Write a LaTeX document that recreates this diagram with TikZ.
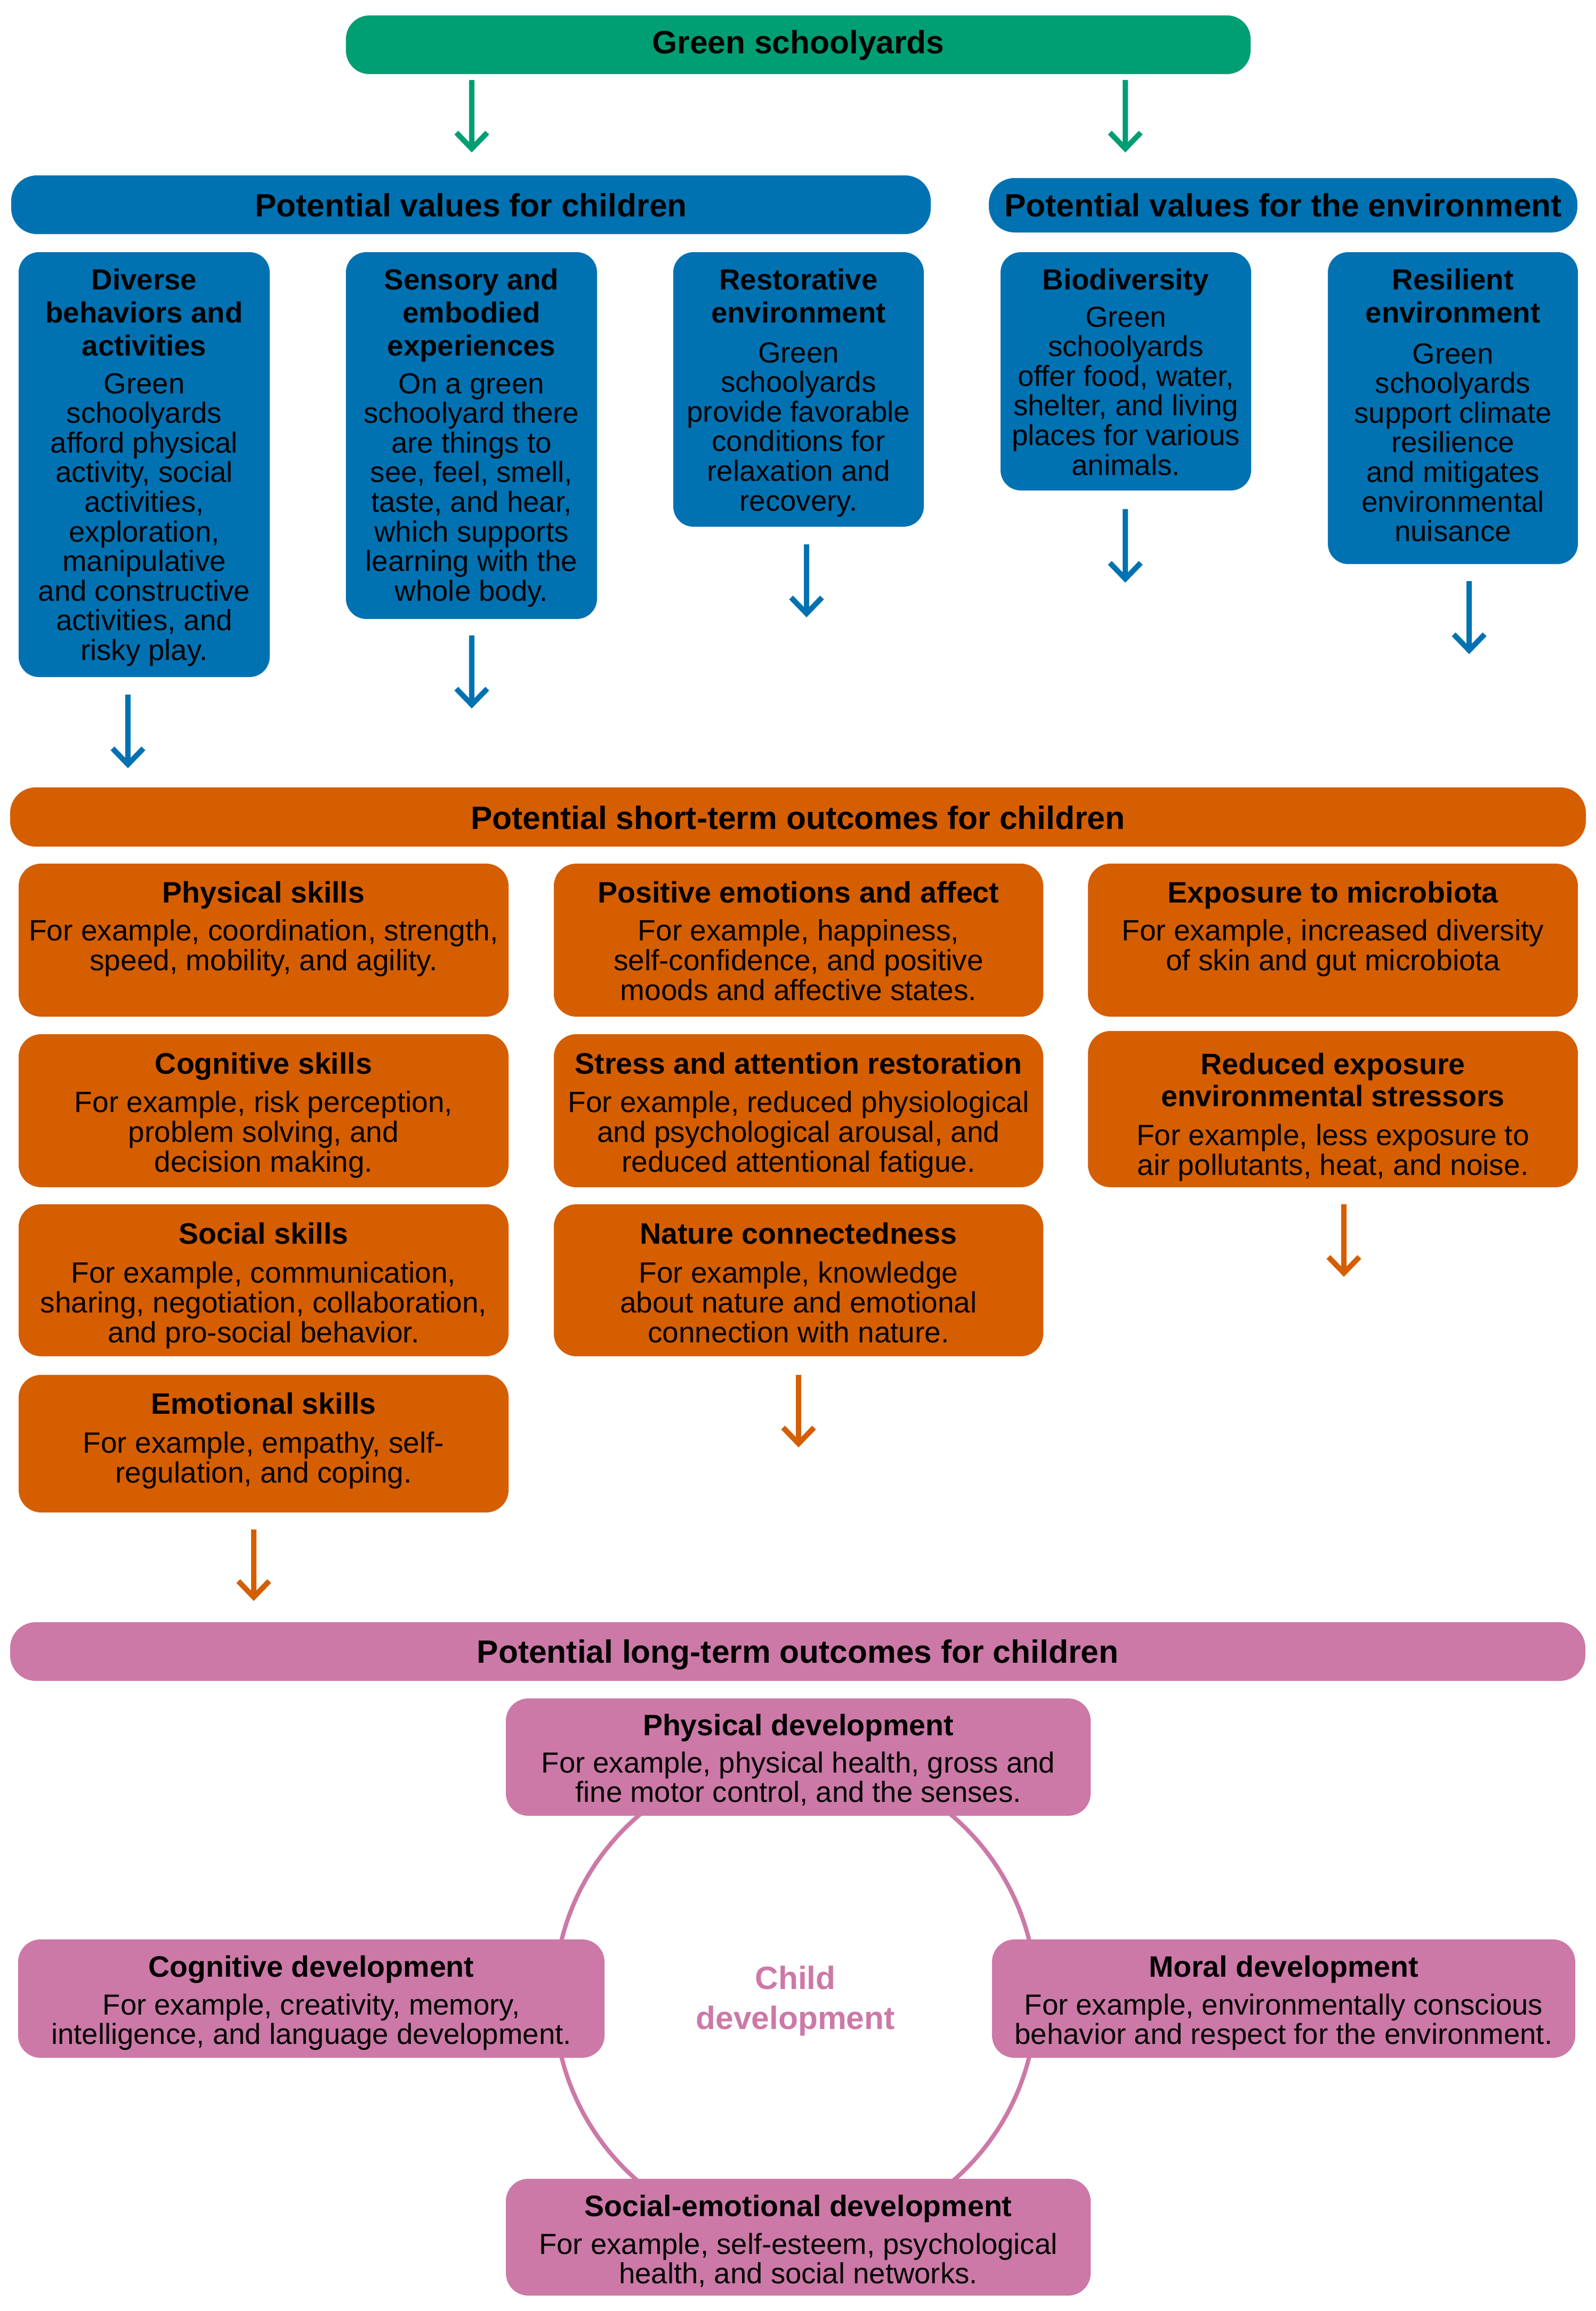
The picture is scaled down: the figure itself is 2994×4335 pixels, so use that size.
\documentclass[tikz,border=0pt]{standalone}
\usepackage{fontspec}
\setmainfont{Liberation Sans}
\usetikzlibrary{arrows.meta}
\definecolor{cgreen}{HTML}{009E73}
\definecolor{cblue}{HTML}{0072B2}
\definecolor{corange}{HTML}{D55E00}
\definecolor{cpink}{HTML}{CC79A7}
\newcommand\ml[1]{\vtop{\lineskiplimit=-\maxdimen\halign{\hfil##\hfil\cr#1\crcr}}}
\tikzset{
  boxshape/.style={rectangle, anchor=north west, inner sep=0pt, outer sep=0pt, draw=none},
  barbox/.style={boxshape, rounded corners=48pt},
  bluebox/.style={boxshape, fill=cblue, rounded corners=38pt},
  orangebox/.style={boxshape, fill=corange, rounded corners=42pt},
  pinkbox/.style={boxshape, fill=cpink, rounded corners=42pt},
  txt/.style={anchor=base, inner sep=0pt, text=black},
  hdr/.style={txt, font=\fontsize{60.5}{70}\selectfont\bfseries},
  btitle/.style={txt, font=\fontsize{54.6}{62}\selectfont\bfseries},
  bbody/.style={txt, font=\fontsize{54.6}{55.6}\selectfont},
  otitle/.style={txt, font=\fontsize{55.5}{60}\selectfont\bfseries},
  obody/.style={txt, font=\fontsize{55}{56.4}\selectfont},
  ptitle/.style={txt, font=\fontsize{55.5}{60}\selectfont\bfseries},
  pbody/.style={txt, font=\fontsize{54.5}{55}\selectfont},
  arr/.style={line width=10pt, line cap=butt, -{Straight Barb[length=30pt,width=58pt]}},
}
\begin{document}
\begin{tikzpicture}[x=1pt,y=-1pt]
\useasboundingbox (0,0) rectangle (2994,4335);

% ---------- top ----------
\node[barbox, fill=cgreen, minimum width=1697pt, minimum height=110pt, rounded corners=44pt] (green) at (649,29) {};
\node[hdr] (green-t) at (1497.5,101) {Green schoolyards};

\coordinate (g1s) at (885,150); \coordinate (g1e) at (885,286);
\coordinate (g2s) at (2111,150); \coordinate (g2e) at (2111,286);
\draw[arr, cgreen] (g1s) -- (g1e);
\draw[arr, cgreen] (g2s) -- (g2e);

\node[barbox, fill=cblue, minimum width=1725pt, minimum height=110pt] (hdrC) at (21,329) {};
\node[hdr] (hdrC-t) at (883.5,406) {Potential values for children};
\node[barbox, fill=cblue, minimum width=1104pt, minimum height=102pt] (hdrE) at (1855,334) {};
\node[hdr] (hdrE-t) at (2407,406) {Potential values for the environment};

% ---------- blue boxes ----------
\node[bluebox, minimum width=471pt, minimum height=797pt] (diverse) at (35,473) {};
\node[btitle] (diverse-t) at (270.5,543) {\ml{Diverse\cr behaviors and\cr activities}};
\node[bbody] (diverse-b) at (270.5,738) {\ml{Green\cr schoolyards\cr afford physical\cr activity, social\cr activities,\cr exploration,\cr manipulative\cr and constructive\cr activities, and\cr risky play.}};

\node[bluebox, minimum width=471pt, minimum height=688pt] (sensory) at (649,473) {};
\node[btitle] (sensory-t) at (884.5,543) {\ml{Sensory and\cr embodied\cr experiences}};
\node[bbody] (sensory-b) at (884.5,738) {\ml{On a green\cr schoolyard there\cr are things to\cr see, feel, smell,\cr taste, and hear,\cr which supports\cr learning with the\cr whole body.}};

\node[bluebox, minimum width=470pt, minimum height=515pt] (restor) at (1263,473) {};
\node[btitle] (restor-t) at (1498,543) {\ml{Restorative\cr environment}};
\node[bbody] (restor-b) at (1498,680) {\ml{Green\cr schoolyards\cr provide favorable\cr conditions for\cr relaxation and\cr recovery.}};

\node[bluebox, minimum width=470pt, minimum height=447pt] (biodiv) at (1877,473) {};
\node[btitle] (biodiv-t) at (2112,543) {\ml{Biodiversity}};
\node[bbody] (biodiv-b) at (2112,613) {\ml{Green\cr schoolyards\cr offer food, water,\cr shelter, and living\cr places for various\cr animals.}};

\node[bluebox, minimum width=469pt, minimum height=585pt] (resil) at (2491,473) {};
\node[btitle] (resil-t) at (2725.5,543) {\ml{Resilient\cr environment}};
\node[bbody] (resil-b) at (2725.5,682) {\ml{Green\cr schoolyards\cr support climate\cr resilience\cr and mitigates\cr environmental\cr nuisance}};

\coordinate (b1s) at (240,1303);  \coordinate (b1e) at (240,1441);
\coordinate (b2s) at (885,1192);  \coordinate (b2e) at (885,1329);
\coordinate (b3s) at (1513,1021); \coordinate (b3e) at (1513,1158);
\coordinate (b4s) at (2111,955);  \coordinate (b4e) at (2111,1093);
\coordinate (b5s) at (2756,1090); \coordinate (b5e) at (2756,1227);
\draw[arr, cblue] (b1s) -- (b1e);
\draw[arr, cblue] (b2s) -- (b2e);
\draw[arr, cblue] (b3s) -- (b3e);
\draw[arr, cblue] (b4s) -- (b4e);
\draw[arr, cblue] (b5s) -- (b5e);

% ---------- orange ----------
\node[barbox, fill=corange, minimum width=2956pt, minimum height=111pt] (hdrO) at (19,1477) {};
\node[hdr] (hdrO-t) at (1497,1555) {Potential short-term outcomes for children};

\node[orangebox, minimum width=919pt, minimum height=287pt] (physk) at (35,1620) {};
\node[otitle] (physk-t) at (494.5,1693) {Physical skills};
\node[obody] (physk-b) at (494.5,1764) {\ml{For example, coordination, strength,\cr speed, mobility, and agility.}};

\node[orangebox, minimum width=919pt, minimum height=287pt] (cogsk) at (35,1940) {};
\node[otitle] (cogsk-t) at (494.5,2014) {Cognitive skills};
\node[obody] (cogsk-b) at (494.5,2086) {\ml{For example, risk perception,\cr problem solving, and\cr decision making.}};

\node[orangebox, minimum width=919pt, minimum height=285pt] (socsk) at (35,2259) {};
\node[otitle] (socsk-t) at (494.5,2333) {Social skills};
\node[obody] (socsk-b) at (494.5,2406) {\ml{For example, communication,\cr sharing, negotiation, collaboration,\cr and pro-social behavior.}};

\node[orangebox, minimum width=919pt, minimum height=258pt] (emosk) at (35,2579) {};
\node[otitle] (emosk-t) at (494.5,2652) {Emotional skills};
\node[obody] (emosk-b) at (494.5,2725) {\ml{For example, empathy, self-\cr regulation, and coping.}};

\node[orangebox, minimum width=918pt, minimum height=287pt] (posem) at (1039,1620) {};
\node[otitle] (posem-t) at (1498,1693) {Positive emotions and affect};
\node[obody] (posem-b) at (1498,1764) {\ml{For example, happiness,\cr self-confidence, and positive\cr moods and affective states.}};

\node[orangebox, minimum width=918pt, minimum height=287pt] (stress) at (1039,1940) {};
\node[otitle] (stress-t) at (1498,2014) {Stress and attention restoration};
\node[obody] (stress-b) at (1498,2086) {\ml{For example, reduced physiological\cr and psychological arousal, and\cr reduced attentional fatigue.}};

\node[orangebox, minimum width=918pt, minimum height=285pt] (nature) at (1039,2259) {};
\node[otitle] (nature-t) at (1498,2333) {Nature connectedness};
\node[obody] (nature-b) at (1498,2406) {\ml{For example, knowledge\cr about nature and emotional\cr connection with nature.}};

\node[orangebox, minimum width=919pt, minimum height=287pt] (expo) at (2041,1620) {};
\node[otitle] (expo-t) at (2500.5,1693) {Exposure to microbiota};
\node[obody] (expo-b) at (2500.5,1764) {\ml{For example, increased diversity\cr of skin and gut microbiota}};

\node[orangebox, minimum width=919pt, minimum height=293pt] (reduc) at (2041,1934) {};
\node[otitle] (reduc-t) at (2500.5,2015) {\ml{Reduced exposure\cr environmental stressors}};
\node[obody] (reduc-b) at (2500.5,2148) {\ml{For example, less exposure to\cr air pollutants, heat, and noise.}};

\coordinate (o1s) at (476,2869);  \coordinate (o1e) at (476,3003);
\coordinate (o2s) at (1498,2579); \coordinate (o2e) at (1498,2715);
\coordinate (o3s) at (2521,2259); \coordinate (o3e) at (2521,2395);
\draw[arr, corange] (o1s) -- (o1e);
\draw[arr, corange] (o2s) -- (o2e);
\draw[arr, corange] (o3s) -- (o3e);

% ---------- pink ----------
\node[barbox, fill=cpink, minimum width=2955pt, minimum height=110pt] (hdrP) at (19,3043) {};
\node[hdr] (hdrP-t) at (1496.5,3119) {Potential long-term outcomes for children};

\coordinate (cc) at (1492,3749);
\draw[cpink, line width=8pt] (cc) circle[radius=452pt];
\node[txt, text=cpink, font=\fontsize{60.5}{75}\selectfont\bfseries] (child) at (1492,3731) {\ml{Child\cr development}};

\node[pinkbox, minimum width=1097pt, minimum height=220pt] (physd) at (949,3186) {};
\node[ptitle] (physd-t) at (1497.5,3255) {Physical development};
\node[pbody] (physd-b) at (1497.5,3325) {\ml{For example, physical health, gross and\cr fine motor control, and the senses.}};

\node[pinkbox, minimum width=1100pt, minimum height=222pt] (cogd) at (34,3638) {};
\node[ptitle] (cogd-t) at (584,3708) {Cognitive development};
\node[pbody] (cogd-b) at (584,3779) {\ml{For example, creativity, memory,\cr intelligence, and language development.}};

\node[pinkbox, minimum width=1094pt, minimum height=222pt] (morald) at (1861,3638) {};
\node[ptitle] (morald-t) at (2408,3708) {Moral development};
\node[pbody] (morald-b) at (2408,3779) {\ml{For example, environmentally conscious\cr behavior and respect for the environment.}};

\node[pinkbox, minimum width=1097pt, minimum height=219pt] (socemo) at (949,4087) {};
\node[ptitle] (socemo-t) at (1497.5,4157) {Social-emotional development};
\node[pbody] (socemo-b) at (1497.5,4228) {\ml{For example, self-esteem, psychological\cr health, and social networks.}};
\end{tikzpicture}
\end{document}
